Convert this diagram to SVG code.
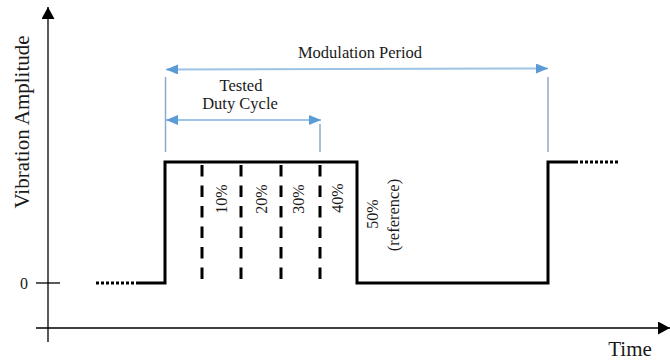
<svg xmlns="http://www.w3.org/2000/svg" width="670" height="363" viewBox="0 0 670 363">
<defs>
<style>
.t{font-family:"Liberation Serif","Times New Roman",serif;fill:#1a1a1a}
.ax{stroke:#000;stroke-width:1.3;fill:none}
.sig{stroke:#000;stroke-width:3;fill:none;stroke-linejoin:miter}
.dot{stroke:#000;stroke-width:3;fill:none;stroke-dasharray:3 2}
.dash{stroke:#000;stroke-width:3;fill:none;stroke-dasharray:11.5 9}
.guide{stroke:#8FA9C4;stroke-width:1.5;fill:none}
.dim{stroke:#9DC3E6;stroke-width:2;fill:none}
</style>
<marker id="ah" markerWidth="12" markerHeight="10" refX="12" refY="5" orient="auto-start-reverse" markerUnits="userSpaceOnUse">
<path d="M0,0 L12,5 L0,10 Z" fill="#5B9BD5"/>
</marker>
<marker id="axh" markerWidth="12" markerHeight="13" refX="12" refY="6.5" orient="auto" markerUnits="userSpaceOnUse">
<path d="M0,0 L12,6.5 L0,13 Z" fill="#000"/>
</marker>
</defs>
<rect width="670" height="363" fill="#fff"/>
<g id="axes">
<line class="ax" x1="48" y1="342" x2="48" y2="7" marker-end="url(#axh)"/>
<line class="ax" x1="36" y1="328" x2="670" y2="328" marker-end="url(#axh)"/>
<line class="ax" x1="36" y1="283" x2="60" y2="283"/>
<text class="t" x="24" y="289" font-size="16" text-anchor="middle">0</text>
<text class="t" x="0" y="0" font-size="21" text-anchor="middle" transform="translate(29,122) rotate(-90)">Vibration Amplitude</text>
<text class="t" x="630" y="356" font-size="21" text-anchor="middle">Time</text>
</g>
<g id="signal">
<line class="dot" x1="96" y1="283" x2="136" y2="283"/>
<polyline class="sig" points="136,283 165,283 165,162 357,162 357,283 548,283 548,162 575,162"/>
<line class="dot" x1="575" y1="162" x2="618" y2="162"/>
</g>
<g id="duty-lines">
<line class="dash" x1="202" y1="165" x2="202" y2="284"/>
<line class="dash" x1="241" y1="165" x2="241" y2="284"/>
<line class="dash" x1="281" y1="165" x2="281" y2="284"/>
<line class="dash" x1="320" y1="165" x2="320" y2="284"/>
</g>
<g id="duty-labels">
<text class="t" font-size="16" text-anchor="middle" transform="translate(227,199) rotate(-90)">10%</text>
<text class="t" font-size="16" text-anchor="middle" transform="translate(267,199) rotate(-90)">20%</text>
<text class="t" font-size="16" text-anchor="middle" transform="translate(304,199) rotate(-90)">30%</text>
<text class="t" font-size="16" text-anchor="middle" transform="translate(343,198) rotate(-90)">40%</text>
<text class="t" font-size="16" text-anchor="middle" transform="translate(378,214) rotate(-90)">50%</text>
<text class="t" font-size="16.5" text-anchor="middle" transform="translate(399,215) rotate(-90)">(reference)</text>
</g>
<g id="connectors">
<line class="guide" x1="165.5" y1="77" x2="165.5" y2="152"/>
<line class="guide" x1="548" y1="77" x2="548" y2="152"/>
<line class="guide" x1="320" y1="124" x2="320" y2="152"/>
<line class="dim" x1="166" y1="69.5" x2="548" y2="68.5" marker-start="url(#ah)" marker-end="url(#ah)"/>
<line class="dim" x1="166" y1="120" x2="321" y2="120" marker-start="url(#ah)" marker-end="url(#ah)"/>
</g>
<g id="dim-labels">
<text class="t" x="360" y="58" font-size="16.5" text-anchor="middle">Modulation Period</text>
<text class="t" x="241" y="91" font-size="16.5" text-anchor="middle">Tested</text>
<text class="t" x="240" y="109" font-size="16.5" text-anchor="middle">Duty Cycle</text>
</g>
</svg>
